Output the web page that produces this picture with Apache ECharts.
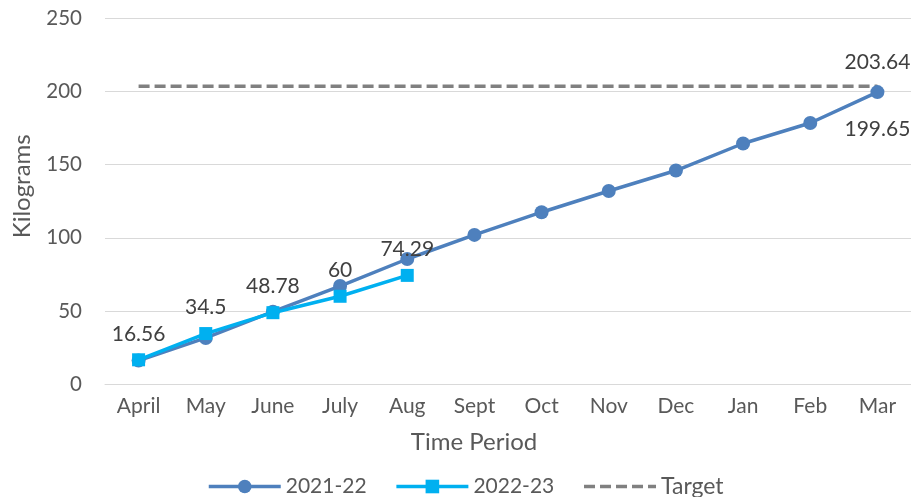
<!DOCTYPE html>
<html><head><meta charset="utf-8">
<script src="https://cdn.jsdelivr.net/npm/echarts@6/dist/echarts.min.js"></script>
<style>html,body{margin:0;padding:0;background:#fff}#c{width:911px;height:497px}</style>
</head><body><div id="c"></div>
<script>
const categories = ['April','May','June','July','Aug','Sept','Oct','Nov','Dec','Jan','Feb','Mar'];
const series2122 = [16, 31.5, 49.5, 67, 85.5, 102, 117.5, 132, 146, 164.5, 178.5, 199.65];
const series2223 = [16.56, 34.5, 48.78, 60, 74.29];
const targetValue = 203.64;
const targetSeries = categories.map(() => targetValue);
const yTicks = [0, 50, 100, 150, 200, 250];

const FONT = 'Lato';
const chart = echarts.init(document.getElementById('c'), null, {renderer: 'canvas'});
chart.setOption({
  animation: false,
  backgroundColor: '#fff',
  textStyle: {fontFamily: FONT},
  grid: {left: 105, right: 0, top: 18.5, bottom: 113, containLabel: false},
  xAxis: {
    type: 'category', data: categories, boundaryGap: true,
    name: 'Time Period', nameLocation: 'middle', nameGap: 46,
    nameTextStyle: {fontFamily: FONT, fontSize: 24, color: '#595959', padding: [0, 68, 0, 0]},
    axisLine: {show: true, lineStyle: {color: '#d9d9d9', width: 1}},
    axisTick: {show: false},
    axisLabel: {fontFamily: FONT, fontSize: 21, color: '#595959', margin: 12}
  },
  yAxis: {
    type: 'value', min: yTicks[0], max: yTicks[yTicks.length-1], interval: 50,
    name: 'Kilograms', nameLocation: 'middle', nameGap: 71,
    nameTextStyle: {fontFamily: FONT, fontSize: 24, color: '#595959', padding: [0, 0, 0, 30]},
    axisLine: {show: false}, axisTick: {show: false},
    axisLabel: {fontFamily: FONT, fontSize: 20.5, color: '#595959', margin: 23},
    splitLine: {lineStyle: {color: '#d9d9d9', width: 1}}
  },
  legend: {
    bottom: -6, left: 202,
    itemWidth: 72, itemHeight: 17, itemGap: 28,
    lineStyle: {width: 3.5},
    textStyle: {fontFamily: FONT, fontSize: 21, color: '#595959'},
    data: [
      {name: '2021-22'},
      {name: '2022-23'},
      {name: 'Target', itemStyle: {opacity: 0}, textStyle: {fontSize: 23}}
    ]
  },
  series: [
    {
      name: '2021-22', type: 'line', data: series2122,
      symbol: 'circle', symbolSize: 14,
      lineStyle: {color: '#4e80bd', width: 3.5},
      itemStyle: {color: '#4e80bd'},
      label: {
        show: true, position: 'bottom', distance: 20,
        fontFamily: FONT, fontSize: 21, color: '#404040',
        formatter: p => p.dataIndex === series2122.length - 1 ? String(p.value) : ''
      },
      z: 2
    },
    {
      name: '2022-23', type: 'line', data: series2223,
      symbol: 'rect', symbolSize: 13,
      lineStyle: {color: '#00b0f0', width: 3.5},
      itemStyle: {color: '#00b0f0'},
      label: {show: true, position: 'top', distance: 9, fontFamily: FONT, fontSize: 21, color: '#404040'},
      z: 3
    },
    {
      name: 'Target', type: 'line', data: targetSeries,
      symbol: 'none', showSymbol: false,
      lineStyle: {color: '#808080', width: 3.5, type: [11, 5]},
      itemStyle: {color: '#808080'},
      label: {show: false},
      markPoint: {
        symbol: 'circle', symbolSize: 0,
        data: [{coord: [categories.length - 1, targetValue], value: targetValue}],
        label: {show: true, position: 'top', distance: 14, fontFamily: FONT, fontSize: 21, color: '#404040', formatter: String(targetValue)}
      },
      z: 1
    }
  ]
});
</script></body></html>
